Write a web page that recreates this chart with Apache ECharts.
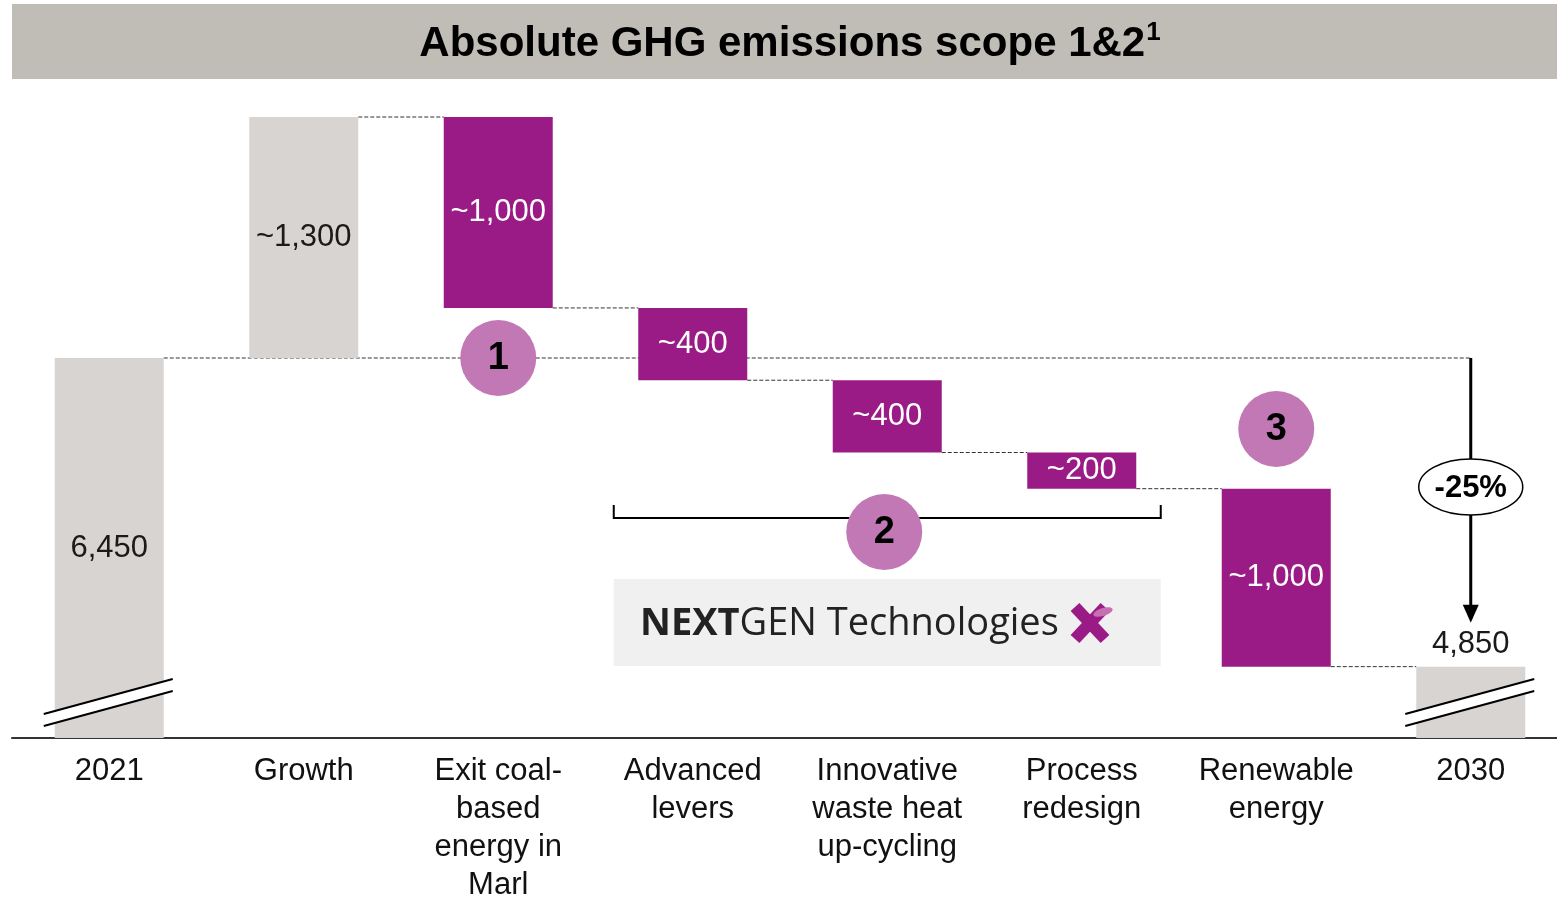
<!DOCTYPE html>
<html>
<head>
<meta charset="utf-8">
<script src="https://cdn.jsdelivr.net/npm/echarts@6/dist/echarts.min.js"></script>
<style>
  html, body { margin: 0; padding: 0; background: #fff; overflow: hidden; }
  #chart { width: 1568px; height: 904px; }
</style>
</head>
<body>
<div id="chart"></div>
<script>
// Data
const categories = ['2021', 'Growth', 'Exit coal-\nbased\nenergy in\nMarl', 'Advanced\nlevers',
  'Innovative\nwaste heat\nup-cycling', 'Process\nredesign', 'Renewable\nenergy', '2030']
const barValues = [6450, 1300, 1030, 390, 390, 195, 960, 4785]
const barKinds = ['total', 'up', 'down', 'down', 'down', 'down', 'down', 'total']
const valueLabels = ['6,450', '~1,300', '~1,000', '~400', '~400', '~200', '~1,000', '4,850']
const axisMin = 4400
const axisMax = 7750

const PURPLE = '#9b1b86'
const GREY = '#d8d4d1'
const PINK = '#c278b5'
const FONT = '"Liberation Sans", Arial, sans-serif'

// waterfall: transparent base + visible part
const base = []
const visible = []
const levelAfter = []
let level = 0
barValues.forEach((v, i) => {
  if (barKinds[i] === 'total') {
    base.push(axisMin)
    visible.push(v - axisMin)
    level = v
  } else if (barKinds[i] === 'up') {
    base.push(level)
    visible.push(v)
    level += v
  } else {
    level -= v
    base.push(level)
    visible.push(v)
  }
  levelAfter.push(level)
})

const chart = echarts.init(document.getElementById('chart'))

chart.setOption({
  animation: false,
  grid: { left: 12, right: 0, top: 117, height: 628 },
  xAxis: {
    type: 'category',
    data: categories,
    axisLine: { lineStyle: { color: '#333', width: 2 } },
    axisTick: { show: false },
    axisLabel: { interval: 0, fontSize: 31, lineHeight: 38, color: '#111', fontFamily: FONT, margin: 14 }
  },
  yAxis: {
    type: 'value',
    min: axisMin,
    max: axisMax,
    show: false,
    splitLine: { show: false }
  },
  series: [
    {
      type: 'bar',
      stack: 'w',
      barWidth: 109,
      silent: true,
      itemStyle: { color: 'transparent' },
      data: base
    },
    {
      type: 'bar',
      stack: 'w',
      barWidth: 109,
      data: visible.map((v, i) => ({
        value: v,
        itemStyle: { color: barKinds[i] === 'down' ? PURPLE : GREY },
        label: {
          color: barKinds[i] === 'down' ? '#fff' : '#1a1a1a',
          position: i === 7 ? 'top' : 'inside',
          distance: 7
        }
      })),
      label: {
        show: true,
        fontSize: 31,
        fontFamily: FONT,
        formatter: p => valueLabels[p.dataIndex]
      }
    }
  ]
})

const px = (i, v) => chart.convertToPixel({ xAxisIndex: 0, yAxisIndex: 0 }, [i, v])
const half = 54.5
const axisY = px(0, axisMin)[1]
const g = []

// title band
g.push({ type: 'rect', shape: { x: 12, y: 4, width: 1545, height: 75 }, style: { fill: '#c0bcb6' }, z: 10 })
g.push({
  type: 'text', x: 790, y: 44, z: 11,
  style: {
    text: '{a|Absolute GHG emissions scope 1&2}{s|1}',
    align: 'center', verticalAlign: 'middle',
    rich: {
      a: { fontSize: 42, fontWeight: 'bold', fontFamily: FONT, fill: '#000', lineHeight: 48 },
      s: { fontSize: 26, fontWeight: 'bold', fontFamily: FONT, fill: '#000', verticalAlign: 'top', lineHeight: 48, padding: [0, 0, 18, 1] }
    }
  }
})

// connector dashed lines
const dash = { stroke: '#333', lineWidth: 1, lineDash: [4, 2] }
const startY = px(0, levelAfter[0])[1]
g.push({ type: 'line', z: 1, shape: { x1: px(0, 0)[0] + half, y1: startY, x2: px(7, 0)[0], y2: startY }, style: dash })
for (let i = 1; i < 7; i++) {
  const y = px(i, levelAfter[i])[1]
  g.push({ type: 'line', z: 1, shape: { x1: px(i, 0)[0] + half, y1: y, x2: px(i + 1, 0)[0] - half, y2: y }, style: dash })
}

// axis break marks on the two total bars
;[0, 7].forEach(i => {
  const cx = px(i, 0)[0]
  const l = cx - half - 11
  const r = cx + half + 9
  g.push({ type: 'polygon', z: 10, shape: { points: [[l, axisY - 24], [r, axisY - 59], [r, axisY - 47], [l, axisY - 12]] }, style: { fill: '#fff' } })
  g.push({ type: 'line', z: 10, shape: { x1: l, y1: axisY - 24, x2: r, y2: axisY - 59 }, style: { stroke: '#000', lineWidth: 2 } })
  g.push({ type: 'line', z: 10, shape: { x1: l, y1: axisY - 12, x2: r, y2: axisY - 47 }, style: { stroke: '#000', lineWidth: 2 } })
})

// bracket under group 2
const bl = px(3, 0)[0] - 79
const br = px(5, 0)[0] + 79
g.push({ type: 'polyline', z: 10, shape: { points: [[bl, 505], [bl, 518], [br, 518], [br, 505]] }, style: { stroke: '#000', lineWidth: 2, fill: null } })

// numbered circles
const circle = (cx, cy, t) => {
  g.push({ type: 'circle', z: 12, shape: { cx: cx, cy: cy, r: 38 }, style: { fill: PINK } })
  g.push({ type: 'text', z: 13, x: cx, y: cy + 1, style: { text: t, fontSize: 38, fontWeight: 'bold', fontFamily: FONT, fill: '#000', align: 'center', verticalAlign: 'middle' } })
}
circle(px(2, 0)[0], startY, '1')
circle(px(4, 0)[0] - 3, 532, '2')
circle(px(6, 0)[0], 429, '3')

// NEXTGEN logo box
g.push({ type: 'rect', z: 10, shape: { x: bl, y: 579, width: br - bl, height: 87 }, style: { fill: '#f0f0f0' } })
g.push({
  type: 'text', z: 11, x: 640, y: 624,
  style: {
    text: '{b|NEXT}{r|GEN Technologies}',
    verticalAlign: 'middle',
    rich: {
      b: { fontSize: 38, fontWeight: 'bold', fontFamily: '"Open Sans", sans-serif', fill: '#222' },
      r: { fontSize: 38, fontFamily: '"Open Sans", sans-serif', fill: '#222' }
    }
  }
})
g.push({ type: 'line', z: 11, shape: { x1: 1075, y1: 607, x2: 1105, y2: 639 }, style: { stroke: PURPLE, lineWidth: 12 } })
g.push({ type: 'line', z: 11, shape: { x1: 1075, y1: 639, x2: 1105, y2: 607 }, style: { stroke: PURPLE, lineWidth: 12 } })
g.push({ type: 'ellipse', z: 12, shape: { cx: 1103, cy: 612, rx: 10, ry: 4 }, rotation: 0.3, originX: 1103, originY: 612, style: { fill: '#c76fb2' } })

// -25% arrow
const ax = px(7, 0)[0]
const tipY = px(7, barValues[7])[1] - 44
g.push({ type: 'line', z: 10, shape: { x1: ax, y1: startY, x2: ax, y2: tipY - 14 }, style: { stroke: '#000', lineWidth: 3 } })
g.push({ type: 'polygon', z: 10, shape: { points: [[ax - 8, tipY - 18], [ax + 8, tipY - 18], [ax, tipY]] }, style: { fill: '#000' } })
g.push({ type: 'ellipse', z: 11, shape: { cx: ax, cy: 487, rx: 52, ry: 28 }, style: { fill: '#fff', stroke: '#000', lineWidth: 1.5 } })
g.push({ type: 'text', z: 12, x: ax, y: 488, style: { text: '-25%', fontSize: 31, fontWeight: 'bold', fontFamily: FONT, fill: '#000', align: 'center', verticalAlign: 'middle' } })

chart.setOption({ graphic: { elements: g } })

window.addEventListener('resize', () => chart.resize())
</script>
</body>
</html>
